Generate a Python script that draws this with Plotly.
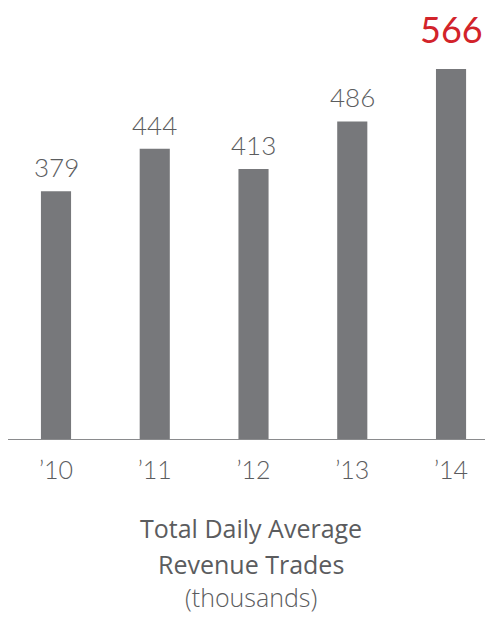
import plotly.graph_objects as go

years = ["\u201910", "\u201911", "\u201912", "\u201913", "\u201914"]
values = [379, 444, 413, 486, 566]
title_lines = ["Total Daily Average", "Revenue Trades", "(thousands)"]

BAR = "#77787b"
TXT = "#5b5c5e"
RED = "#d2232a"
FONT = "Lato"
TFONT = "Open Sans"

# page has an 8px body margin; figure sized to fit the window
W, H = 485, 609
PLOT_H = 431

fig = go.Figure()
fig.add_trace(go.Bar(
    x=list(range(len(years))), y=values,
    marker=dict(color=BAR, line=dict(width=0)),
    hoverinfo="skip",
))

annotations = []
for i, v in enumerate(values):
    last = i == len(values) - 1
    annotations.append(dict(
        x=i, y=v, xref="x", yref="y", text=str(v), showarrow=False,
        xanchor="center", yanchor="bottom", borderpad=0,
        yshift=17 if last else 7,
        font=dict(family=FONT, size=36 if last else 26, color=RED if last else TXT,
                  weight=400 if last else 300),
    ))

for j, (line, py) in enumerate(zip(title_lines, [520, 556, 589])):
    annotations.append(dict(
        x=0.5, y=(PLOT_H - py) / PLOT_H, xref="paper", yref="paper",
        text=line, showarrow=False, xanchor="center", yanchor="middle",
        font=dict(family=TFONT, size=25, color=TXT, weight=400 if j < 2 else 300),
    ))

fig.update_layout(
    width=W, height=H,
    margin=dict(l=0, r=0, t=0, b=H - PLOT_H),
    paper_bgcolor="white", plot_bgcolor="white",
    bargap=0.695,
    showlegend=False,
    annotations=annotations,
    xaxis=dict(
        range=[-0.486, 4.425],
        tickmode="array", tickvals=list(range(len(years))), ticktext=years,
        showline=True, linecolor="#8a8b8d", linewidth=1,
        showgrid=False, zeroline=False,
        ticks="outside", ticklen=9, tickcolor="rgba(0,0,0,0)",
        tickfont=dict(family=FONT, size=25, color=TXT, weight=300),
        fixedrange=True,
    ),
    yaxis=dict(
        range=[0, 659.5], visible=False, showgrid=False, zeroline=False, fixedrange=True,
    ),
)

fig.write_html("out.html", config={"displayModeBar": False})
